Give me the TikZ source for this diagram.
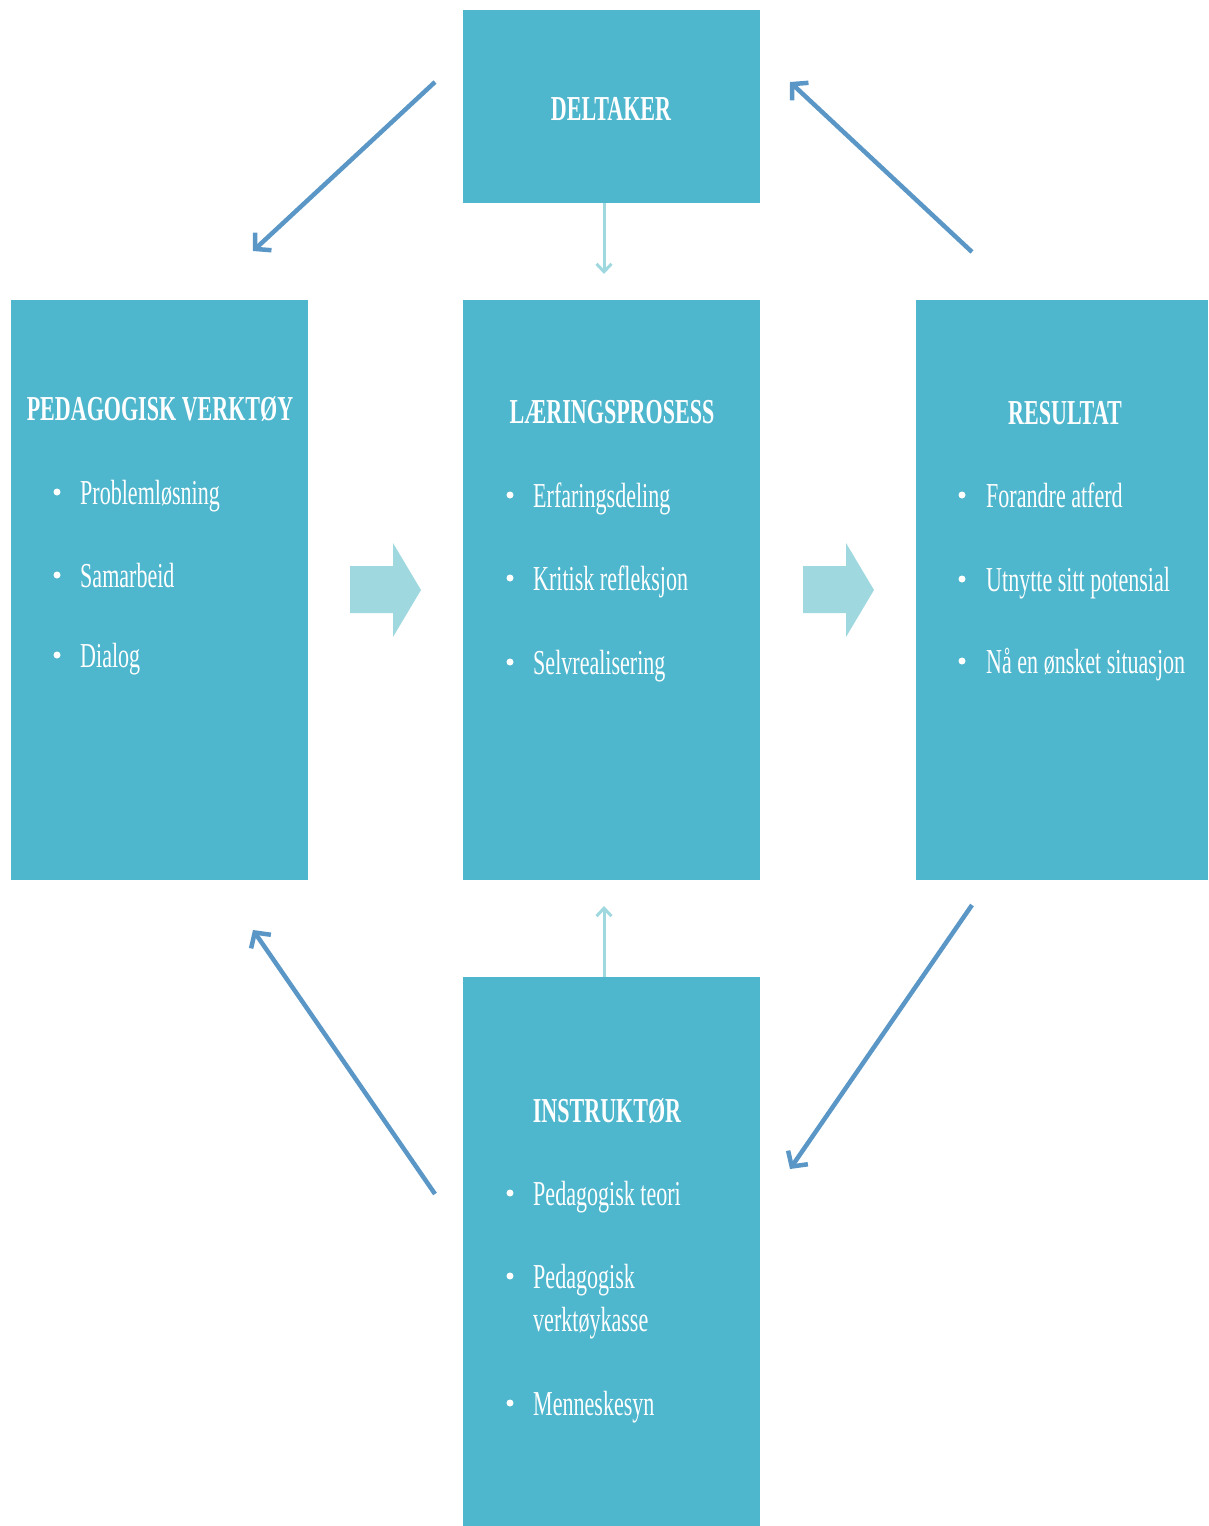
\documentclass[tikz,border=0pt]{standalone}
\usepackage{fontspec}
\usepackage{graphicx}
\setmainfont{Liberation Serif}
\usetikzlibrary{arrows.meta}
\definecolor{boxc}{HTML}{4EB6CD}
\definecolor{lightc}{HTML}{A0D8E0}
\definecolor{darkc}{HTML}{5B97C6}
\newcommand{\cond}[1]{\scalebox{0.63}[1]{#1}}
\begin{document}
\begin{tikzpicture}[x=1pt,y=-1pt,
  box/.style={fill=boxc, draw=none, minimum width=297pt, anchor=north west, inner sep=0},
  ttl/.style={text=white, font=\fontsize{35}{40}\selectfont\bfseries, anchor=base, inner sep=0},
  itm/.style={text=white, font=\fontsize{35}{40}\selectfont, anchor=base west, inner sep=0},
  bul/.style={fill=white, circle, inner sep=0, minimum size=7pt},
  darr/.style={draw=darkc, line width=4.5pt, -{Straight Barb[length=11pt,width=24pt]}},
  larr/.style={draw=lightc, line width=3pt, -{Straight Barb[length=8pt,width=15pt]}},
  blk/.style={fill=lightc, draw=none}]
\useasboundingbox (0,0) rectangle (1208,1526);
% boxes
\node[box, minimum height=193pt] (delt) at (463,10) {};
\node[box, minimum height=580pt] (ped) at (11,300) {};
\node[box, minimum height=580pt] (laer) at (463,300) {};
\node[box, minimum height=580pt, minimum width=292pt] (res) at (916,300) {};
\node[box, minimum height=549pt] (instr) at (463,977) {};
% titles
\node[ttl] (tdelt) at (611,120) {\cond{DELTAKER}};
\node[ttl] (tped) at (160,420) {\cond{PEDAGOGISK VERKTØY}};
\node[ttl] (tlaer) at (612,423) {\cond{LÆRINGSPROSESS}};
\node[ttl] (tres) at (1065,424) {\cond{RESULTAT}};
\node[ttl] (tinstr) at (607,1122) {\cond{INSTRUKTØR}};
% items PED
\node[bul] (bp1) at (57,492) {};
\node[itm] (ip1) at (80,504) {\cond{Problemløsning}};
\node[bul] (bp2) at (57,575) {};
\node[itm] (ip2) at (80,587) {\cond{Samarbeid}};
\node[bul] (bp3) at (57,655) {};
\node[itm] (ip3) at (80,667) {\cond{Dialog}};
% items LAER
\node[bul] (bl1) at (510,495) {};
\node[itm] (il1) at (533,507) {\cond{Erfaringsdeling}};
\node[bul] (bl2) at (510,578) {};
\node[itm] (il2) at (533,590) {\cond{Kritisk refleksjon}};
\node[bul] (bl3) at (510,662) {};
\node[itm] (il3) at (533,674) {\cond{Selvrealisering}};
% items RES
\node[bul] (br1) at (962,495) {};
\node[itm] (ir1) at (986,507) {\cond{Forandre atferd}};
\node[bul] (br2) at (962,579) {};
\node[itm] (ir2) at (986,591) {\cond{Utnytte sitt potensial}};
\node[bul] (br3) at (962,661) {};
\node[itm] (ir3) at (986,673) {\cond{Nå en ønsket situasjon}};
% items INSTR
\node[bul] (bi1) at (510,1193) {};
\node[itm] (ii1) at (533,1205) {\cond{Pedagogisk teori}};
\node[bul] (bi2) at (510,1276) {};
\node[itm] (ii2a) at (533,1288) {\cond{Pedagogisk}};
\node[itm] (ii2b) at (533,1331) {\cond{verktøykasse}};
\node[bul] (bi3) at (510,1403) {};
\node[itm] (ii3) at (533,1415) {\cond{Menneskesyn}};
% connector endpoints
\coordinate (a1s) at (435,82);
\coordinate (a1e) at (253,251);
\coordinate (a2s) at (972,252);
\coordinate (a2e) at (790,82);
\coordinate (a3s) at (972,905);
\coordinate (a3e) at (790,1169);
\coordinate (a4s) at (435,1194);
\coordinate (a4e) at (253,930);
\coordinate (l1s) at (604,203);
\coordinate (l1e) at (604,274);
\coordinate (l2s) at (604,977);
\coordinate (l2e) at (604,906);
\draw[darr] (a1s) -- (a1e);
\draw[darr] (a2s) -- (a2e);
\draw[darr] (a3s) -- (a3e);
\draw[darr] (a4s) -- (a4e);
\draw[larr] (l1s) -- (l1e);
\draw[larr] (l2s) -- (l2e);
% block arrows
\fill[blk] (350,566) -- (393,566) -- (393,543) -- (421,590) -- (393,637) -- (393,613) -- (350,613) -- cycle;
\fill[blk] (803,566) -- (846,566) -- (846,543) -- (874,590) -- (846,637) -- (846,613) -- (803,613) -- cycle;
\end{tikzpicture}
\end{document}
